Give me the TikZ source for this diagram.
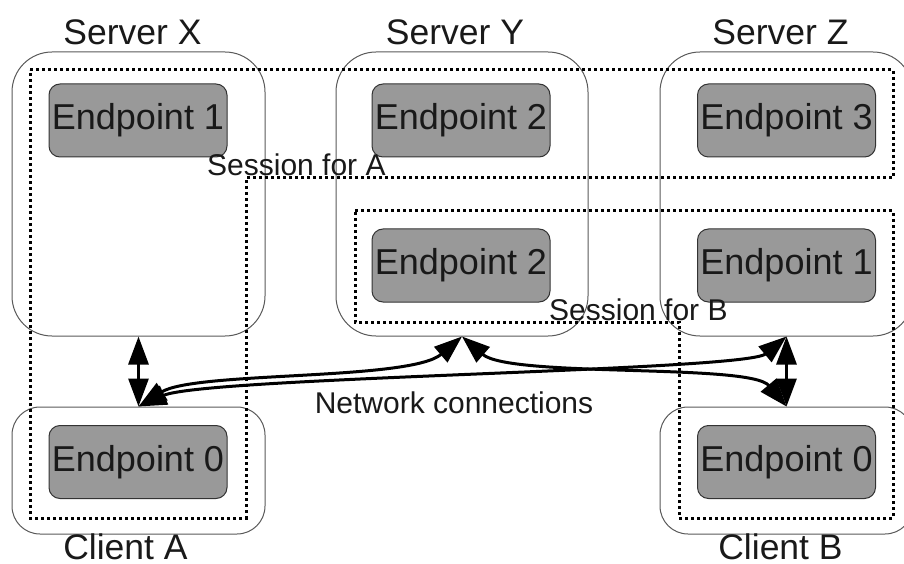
\documentclass[tikz,border=0pt]{standalone}
\usepackage{fontspec}
\setmainfont{Liberation Sans}
\usepackage{tikz}
\usetikzlibrary{shapes.geometric, arrows.meta}
\tikzstyle{host} = [rectangle, rounded corners=40pt, minimum width=253pt, minimum height=284pt, inner sep=0pt, draw=black!65, line width=1pt]
\tikzstyle{client} = [host, rounded corners=28pt, minimum height=127pt]
\tikzstyle{endpoint} = [rectangle, rounded corners=11pt, minimum width=178pt, minimum height=73pt, inner sep=0pt, text centered, draw=black!80, fill=black!40, line width=1pt, text=black!90, font=\fontsize{36}{41}\selectfont]
\tikzstyle{caption} = [text=black!90, font=\fontsize{35.5}{40}\selectfont]
\tikzstyle{note} = [inner sep=0pt, text=black!90, font=\fontsize{30}{34}\selectfont]
\tikzstyle{session} = [line width=3pt, dash pattern=on 3pt off 3pt]
\tikzstyle{arrow} = [line width=3pt, <->, >={Triangle[length=28pt,width=20pt]}]

\begin{document}
\begin{tikzpicture}[x=1pt, y=1pt, node distance=145pt]
\useasboundingbox (0,0) rectangle (904,563);
\clip (0,0) rectangle (904,563);

\node (serverX) [host, label={[caption, xshift=-6pt, yshift=3pt]above:Server X}] at (138.5,369) {};
\node (serverY) [host, minimum width=252pt, label={[caption, xshift=-7pt, yshift=3pt]above:Server Y}] at (462,369) {};
\node (serverZ) [host, label={[caption, xshift=-6pt, yshift=3pt]above:Server Z}] at (786.5,369) {};
\node (clientA) [client, label={[caption, inner sep=0pt, xshift=-13pt, yshift=1pt]below:Client A}] at (138.5,92.5) {};
\node (clientB) [client, label={[caption, inner sep=0pt, xshift=-6pt, yshift=1pt]below:Client B}] at (786.5,92.5) {};

\node (epX1) [endpoint] at (138,442.5) {Endpoint 1};
\node (epY1) [endpoint] at (461,442.5) {Endpoint 2};
\node (epZ1) [endpoint] at (786.5,442.5) {Endpoint 3};
\node (epY2) [endpoint, below of=epY1] {Endpoint 2};
\node (epZ2) [endpoint, below of=epZ1] {Endpoint 1};
\node (epA) [endpoint] at (138,101) {Endpoint 0};
\node (epB) [endpoint] at (786.5,101) {Endpoint 0};

\draw [session] (30,493) -- (893,493) -- (893,385) -- (246,385) -- (246,45) -- (30,45) -- cycle;
\draw [session] (355,352) -- (893,352) -- (893,45) -- (679,45) -- (679,241) -- (355,241) -- cycle;

\node (sessionA) [note, anchor=base west] at (207,387) {Session for A};
\node (sessionB) [note, anchor=base west] at (549,243) {Session for B};
\node (network) [note, anchor=base] at (454,150) {Network connections};

\draw [arrow] (serverX.south) -- (clientA.north);
\draw [arrow] (clientA.north) .. controls (195,192) and (410,182) .. (serverY.south);
\draw [arrow] (clientA.north) .. controls (205,186) and (745,192) .. (serverZ.south);
\draw [arrow] (serverY.south) .. controls (510,185) and (750,200) .. (clientB.north);
\draw [arrow] (serverZ.south) -- (clientB.north);
\end{tikzpicture}
\end{document}
